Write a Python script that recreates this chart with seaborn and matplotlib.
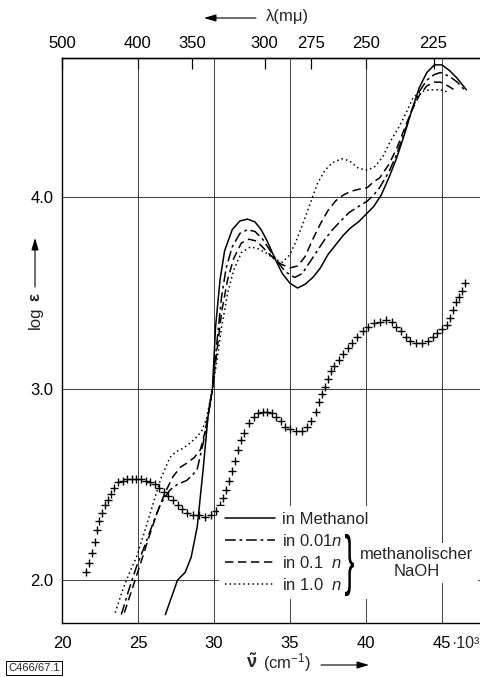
import numpy as np
import pandas as pd
import matplotlib
matplotlib.use("Agg")
import matplotlib.pyplot as plt
import seaborn as sns
from matplotlib import font_manager
from matplotlib.lines import Line2D
from matplotlib.textpath import TextPath
from matplotlib.patches import PathPatch
from matplotlib.transforms import Affine2D, IdentityTransform

# ---------------- data (wavenumber in 10^3 cm^-1, log epsilon) ----------------
wn_methanol = [26.8, 27.2, 27.6, 28.1, 28.5, 28.9, 29.3, 29.6, 29.9, 30.1, 30.4, 30.7,
               31.2, 31.7, 32.2, 32.7, 33.1, 33.5, 34.0, 34.5, 35.0, 35.5, 36.0, 36.5,
               37.0, 37.5, 38.0, 38.5, 39.0, 39.5, 40.0, 40.5, 41.0, 41.5, 42.0, 42.5,
               43.0, 43.5, 44.0, 44.5, 45.0, 45.5, 46.0, 46.6]
le_methanol = [1.82, 1.91, 2.00, 2.04, 2.12, 2.28, 2.59, 2.85, 3.00, 3.32, 3.57, 3.72,
               3.83, 3.875, 3.885, 3.87, 3.83, 3.77, 3.68, 3.60, 3.55, 3.525, 3.545, 3.58,
               3.63, 3.70, 3.75, 3.80, 3.84, 3.87, 3.91, 3.95, 4.01, 4.10, 4.20, 4.32,
               4.45, 4.57, 4.65, 4.69, 4.69, 4.66, 4.62, 4.56]

wn_001n = [23.9, 24.4, 24.9, 25.5, 26.0, 26.5, 27.1, 27.6, 28.2, 28.6, 28.9, 29.3, 29.6,
           29.9, 30.2, 30.5, 30.8, 31.2, 31.7, 32.2, 32.7, 33.2, 33.7, 34.2, 34.7, 35.3,
           35.8, 36.3, 36.8, 37.3, 37.8, 38.4, 38.9, 39.5, 40.1, 40.5, 40.9, 41.5, 42.0,
           42.5, 43.0, 43.5, 44.0, 44.5, 44.9, 45.5, 46.0, 46.6]
le_001n = [1.82, 1.95, 2.07, 2.19, 2.30, 2.40, 2.47, 2.50, 2.52, 2.55, 2.58, 2.72, 2.86,
           3.00, 3.25, 3.48, 3.63, 3.74, 3.81, 3.83, 3.82, 3.78, 3.72, 3.66, 3.61, 3.58,
           3.60, 3.66, 3.72, 3.78, 3.83, 3.88, 3.92, 3.95, 3.98, 4.01, 4.05, 4.13, 4.22,
           4.33, 4.45, 4.55, 4.61, 4.64, 4.65, 4.63, 4.60, 4.55]

wn_01n = [24.1, 24.6, 25.1, 25.7, 26.25, 26.8, 27.3, 27.8, 28.2, 28.7, 29.1, 29.5, 29.9,
          30.2, 30.5, 30.9, 31.3, 31.8, 32.3, 32.8, 33.3, 33.8, 34.4, 35.0, 35.5, 36.0,
          36.5, 37.0, 37.5, 38.0, 38.5, 39.0, 39.5, 40.1, 40.5, 40.9, 41.5, 42.0, 42.5,
          43.0, 43.5, 44.0, 44.5, 44.9, 45.4, 45.8]
le_01n = [1.83, 1.95, 2.07, 2.22, 2.35, 2.46, 2.54, 2.59, 2.61, 2.64, 2.68, 2.80, 3.00,
          3.20, 3.40, 3.57, 3.68, 3.76, 3.78, 3.77, 3.73, 3.69, 3.65, 3.63, 3.64, 3.69,
          3.78, 3.86, 3.93, 3.98, 4.01, 4.03, 4.04, 4.05, 4.08, 4.10, 4.17, 4.25, 4.35,
          4.45, 4.53, 4.58, 4.60, 4.60, 4.58, 4.56]

wn_10n = [23.5, 24.0, 24.5, 24.9, 25.5, 26.0, 26.5, 27.1, 27.5, 28.0, 28.5, 28.9, 29.2,
          29.5, 29.9, 30.2, 30.5, 30.9, 31.3, 31.8, 32.4, 32.9, 33.4, 33.9, 34.5, 35.0,
          35.4, 35.8, 36.3, 36.8, 37.3, 37.8, 38.4, 38.9, 39.5, 40.1, 40.6, 41.1, 41.6,
          42.2, 42.7, 43.1, 43.6, 44.2, 44.9, 45.3]
le_10n = [1.83, 1.95, 2.05, 2.12, 2.27, 2.40, 2.53, 2.64, 2.67, 2.69, 2.72, 2.75, 2.78,
          2.84, 3.00, 3.15, 3.32, 3.50, 3.62, 3.71, 3.74, 3.73, 3.71, 3.68, 3.66, 3.70,
          3.77, 3.85, 3.96, 4.07, 4.14, 4.18, 4.20, 4.19, 4.15, 4.14, 4.16, 4.21, 4.29,
          4.37, 4.45, 4.52, 4.55, 4.56, 4.56, 4.55]

wn_cross = [21.6, 21.8, 22.0, 22.15, 22.3, 22.45, 22.6, 22.8, 23.0, 23.2, 23.45, 23.7,
            24.0, 24.3, 24.6, 24.9, 25.2, 25.5, 25.8, 26.1, 26.4, 26.7, 27.0, 27.3,
            27.6, 27.9, 28.2, 28.6, 29.0, 29.4, 29.8, 30.1, 30.4, 30.6, 30.8, 31.0,
            31.2, 31.4, 31.6, 31.8, 32.0, 32.3, 32.6, 32.9, 33.2, 33.5, 33.8, 34.1,
            34.4, 34.7, 35.0, 35.4, 35.8, 36.1, 36.4, 36.7, 36.9, 37.1, 37.3, 37.5,
            37.7, 37.9, 38.2, 38.5, 38.8, 39.1, 39.4, 39.8, 40.1, 40.5, 40.9, 41.3,
            41.7, 42.0, 42.3, 42.6, 42.9, 43.3, 43.7, 44.1, 44.4, 44.7, 45.0, 45.3,
            45.5, 45.7, 45.9, 46.1, 46.3, 46.5]
le_cross = [2.04, 2.09, 2.14, 2.20, 2.26, 2.31, 2.35, 2.39, 2.42, 2.45, 2.48, 2.51,
            2.52, 2.53, 2.53, 2.53, 2.53, 2.52, 2.51, 2.50, 2.48, 2.46, 2.44, 2.42,
            2.39, 2.37, 2.35, 2.34, 2.34, 2.33, 2.34, 2.36, 2.39, 2.43, 2.47, 2.52,
            2.57, 2.62, 2.68, 2.73, 2.77, 2.82, 2.85, 2.87, 2.88, 2.88, 2.87, 2.85,
            2.83, 2.80, 2.79, 2.78, 2.78, 2.80, 2.83, 2.88, 2.93, 2.97, 3.01, 3.05,
            3.09, 3.12, 3.15, 3.18, 3.21, 3.24, 3.27, 3.30, 3.32, 3.34, 3.35, 3.36,
            3.35, 3.32, 3.30, 3.27, 3.25, 3.24, 3.24, 3.25, 3.27, 3.29, 3.31, 3.33,
            3.37, 3.41, 3.45, 3.48, 3.51, 3.55]

series_labels = ["in Methanol", "in 0.01$n$", "in 0.1  $n$", "in 1.0  $n$"]
bottom_ticks = [20, 25, 30, 35, 40, 45]
bottom_ticklabels = ["20", "25", "30", "35", "40", "45"]
left_ticks = [2.0, 3.0, 4.0]
left_ticklabels = ["2.0", "3.0", "4.0"]
top_ticks = [500, 400, 350, 300, 275, 250, 225]
top_ticklabels = ["500", "400", "350", "300", "275", "250", "225"]

# ---------------- style ----------------
sns.set_theme(style="white")
names = {f.name for f in font_manager.fontManager.ttflist}
FONT = "Liberation Sans" if "Liberation Sans" in names else "DejaVu Sans"
plt.rcParams["font.family"] = [FONT, "DejaVu Sans"]
plt.rcParams["mathtext.fontset"] = "custom"
plt.rcParams["mathtext.rm"] = FONT
plt.rcParams["mathtext.it"] = FONT + ":italic"
plt.rcParams["mathtext.bf"] = FONT + ":bold"

W, H = 480, 677
fig = plt.figure(figsize=(W / 100, H / 100), dpi=100)
fig.patch.set_facecolor("white")
ax = fig.add_axes([62 / W, 54 / H, 418 / W, 565 / H])
ax.set_facecolor("white")

dash_styles = {
    series_labels[0]: "",
    series_labels[1]: (7, 2.5, 1.8, 2.5),
    series_labels[2]: (5.5, 3),
    series_labels[3]: (1, 2),
}

frames = []
for lab, xs, ys in [(series_labels[0], wn_methanol, le_methanol),
                    (series_labels[1], wn_001n, le_001n),
                    (series_labels[2], wn_01n, le_01n),
                    (series_labels[3], wn_10n, le_10n)]:
    frames.append(pd.DataFrame({"wn": xs, "loge": ys, "solution": lab}))
df = pd.concat(frames, ignore_index=True)

sns.lineplot(data=df, x="wn", y="loge", style="solution", dashes=dash_styles,
             units="solution", estimator=None, sort=False, color="black",
             linewidth=1.1, legend=False, ax=ax)

cross_df = pd.DataFrame({"wn": wn_cross, "loge": le_cross})
sns.scatterplot(data=cross_df, x="wn", y="loge", marker="+", s=28, color="black",
                linewidth=1.0, legend=False, ax=ax, zorder=3)

ax.set_xlim(20, 47.5)
ax.set_ylim(1.776, 4.726)
ax.set_xlabel("")
ax.set_ylabel("")
ax.set_xticks(bottom_ticks)
ax.set_xticklabels(bottom_ticklabels)
ax.set_yticks(left_ticks)
ax.set_yticklabels(left_ticklabels)
ax.tick_params(axis="both", length=0, labelsize=12, colors="black")
ax.tick_params(axis="x", pad=9)
ax.tick_params(axis="y", pad=6)
ax.grid(True, color="#222222", linewidth=0.6)
for side in ["left", "bottom", "top"]:
    ax.spines[side].set_visible(True)
    ax.spines[side].set_color("black")
    ax.spines[side].set_linewidth(1.0)
ax.spines["right"].set_visible(False)


def wn_to_nm(x):
    x = np.asarray(x, dtype=float)
    with np.errstate(divide="ignore", invalid="ignore"):
        return 1e4 / x


secax = ax.secondary_xaxis("top", functions=(wn_to_nm, wn_to_nm))
secax.set_xticks(top_ticks)
secax.set_xticklabels(top_ticklabels)
secax.tick_params(direction="in", length=8, width=0.9, pad=5, labelsize=12, colors="black")
secax.spines["top"].set_linewidth(1.0)


def fx(px):
    return px / W


def fy(py):
    return (H - py) / H


# "·10³" after 45
fig.text(fx(451), fy(643), "·10³", fontsize=11.5, ha="left", va="center")

# legend
handles = [Line2D([], [], color="black", lw=1.1,
                  linestyle=(0, dash_styles[l]) if dash_styles[l] else "-")
           for l in series_labels]
leg = ax.legend(handles, series_labels, loc="upper left",
                bbox_to_anchor=(fx(219), fy(506)), bbox_transform=fig.transFigure,
                frameon=True, fancybox=False, facecolor="white", edgecolor="none",
                framealpha=1.0, fontsize=12, handlelength=3.0, handletextpad=0.45,
                labelspacing=0.36, borderpad=0.35, borderaxespad=0)
leg.set_zorder(10)

# brace
fp = font_manager.FontProperties(family=FONT)
tp = TextPath((0, 0), "}", size=20, prop=fp)
ext = tp.get_extents()
bw, bh = 9, 62
tr = (Affine2D().translate(-ext.x0, -ext.y0)
      .scale(bw / ext.width, bh / ext.height)
      .translate(345, H - 596))
fig.add_artist(PathPatch(tr.transform_path(tp), facecolor="black", edgecolor="none",
                         transform=IdentityTransform(), zorder=12))

fig.text(fx(417), fy(563), "methanolischer\nNaOH", fontsize=12, ha="center", va="center",
         linespacing=1.15, zorder=11,
         bbox=dict(boxstyle="square,pad=0.25", facecolor="white", edgecolor="none"))

# top label
fig.text(fx(266), fy(17), "λ(mμ)", fontsize=12, ha="left", va="center")
ax.annotate("", xy=(204, H - 18), xytext=(256, H - 18), xycoords="figure pixels",
            textcoords="figure pixels",
            arrowprops=dict(arrowstyle="-|>,head_length=0.6,head_width=0.18",
                            lw=0.8, color="black", shrinkA=0, shrinkB=0))

# bottom label
fig.text(fx(246), fy(663), r"$\mathbf{\tilde{\nu}}$", fontsize=13, ha="left", va="center")
fig.text(fx(263), fy(663), r"(cm$^{-1}$)", fontsize=12, ha="left", va="center")
ax.annotate("", xy=(369, H - 665), xytext=(321, H - 665), xycoords="figure pixels",
            textcoords="figure pixels",
            arrowprops=dict(arrowstyle="-|>,head_length=0.6,head_width=0.18",
                            lw=0.8, color="black", shrinkA=0, shrinkB=0))

# left label
fig.text(fx(35), fy(318), "log", fontsize=12, rotation=90, ha="center", va="center")
fig.text(fx(35), fy(297), "ε", fontsize=12, fontweight="bold", rotation=90,
         ha="center", va="center")
ax.annotate("", xy=(35, H - 238), xytext=(35, H - 287), xycoords="figure pixels",
            textcoords="figure pixels",
            arrowprops=dict(arrowstyle="-|>,head_length=0.6,head_width=0.18",
                            lw=0.8, color="black", shrinkA=0, shrinkB=0))

# catalogue tag
fig.text(fx(8), fy(668), "C466/67.1", fontsize=8, ha="left", va="center",
         bbox=dict(boxstyle="square,pad=0.2", facecolor="white", edgecolor="black",
                   linewidth=0.7))

fig.savefig("out.png", dpi=100)
